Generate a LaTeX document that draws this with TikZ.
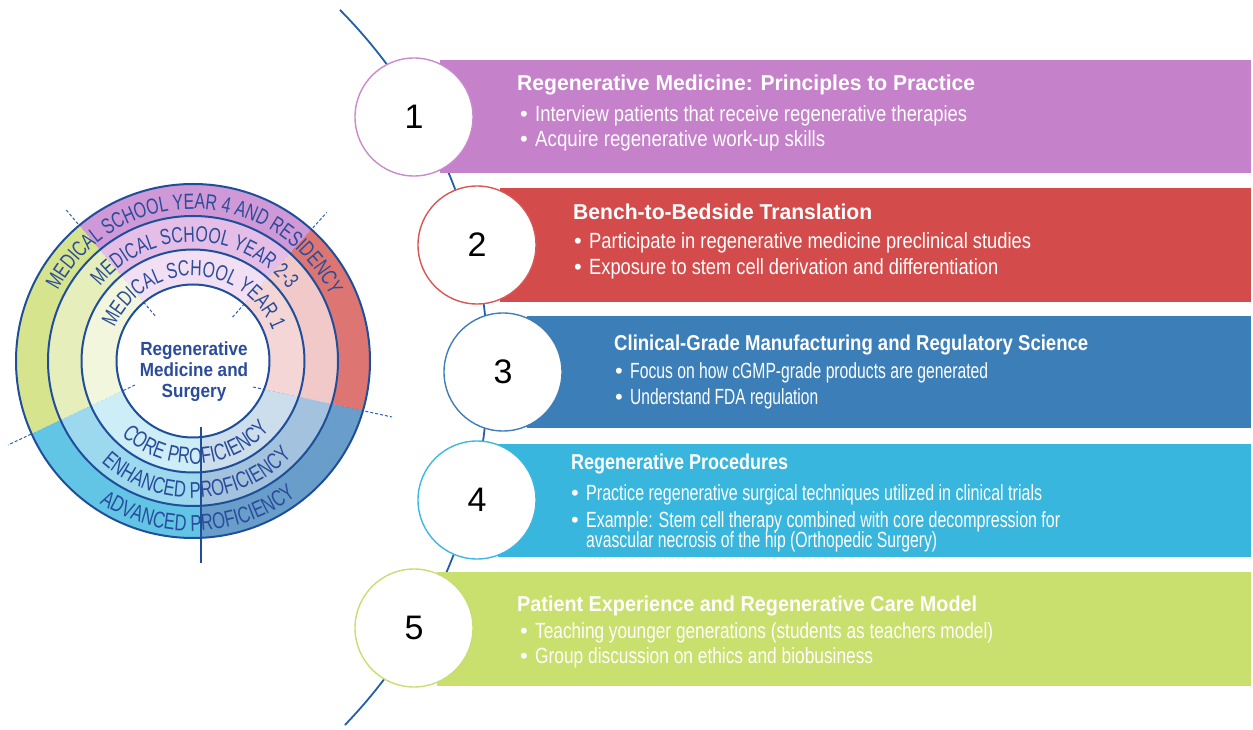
\documentclass[tikz,border=0pt]{standalone}
\usepackage{fontspec}
\usepackage{graphicx}
\setmainfont{Liberation Sans}
\newfontfamily\ringfont[FakeStretch=0.72]{Liberation Sans}
\newfontfamily\ctrfont[FakeStretch=0.9]{Liberation Sans}
\usetikzlibrary{decorations.text,calc}
\newcommand\fitw[2]{\resizebox{#1}{\height}{#2}}
\definecolor{ringblue}{HTML}{1F4E9A}
\definecolor{ringtext}{HTML}{2A4C9A}
\definecolor{dashblue}{HTML}{2F5FA8}
\definecolor{arcblue}{HTML}{2160A6}
\definecolor{pA}{HTML}{CF98D6}\definecolor{pB}{HTML}{E4BEE6}\definecolor{pC}{HTML}{F2DFF3}
\definecolor{gA}{HTML}{D7E48E}\definecolor{gB}{HTML}{E6EEBC}\definecolor{gC}{HTML}{F1F6DC}
\definecolor{rA}{HTML}{DD7672}\definecolor{rB}{HTML}{F2C9C9}\definecolor{rC}{HTML}{F5D6D6}
\definecolor{cA}{HTML}{63C5E6}\definecolor{cB}{HTML}{9CD9EE}\definecolor{cC}{HTML}{CDEDF7}
\definecolor{sA}{HTML}{6A9ECA}\definecolor{sB}{HTML}{A2C2DD}\definecolor{sC}{HTML}{CCDDEB}
\definecolor{bandA}{HTML}{C581C9}
\definecolor{bandB}{HTML}{D34C4B}
\definecolor{bandC}{HTML}{3B7EB8}
\definecolor{bandD}{HTML}{39B6DD}
\definecolor{bandE}{HTML}{C9DF6E}
\definecolor{oA}{HTML}{C98BCB}
\definecolor{oB}{HTML}{D85656}
\definecolor{oC}{HTML}{3F7EB6}
\definecolor{oD}{HTML}{3DB8E0}
\definecolor{oE}{HTML}{C8DE70}
\tikzset{
  bandbox/.style={anchor=south west, inner sep=0, outer sep=0, draw=none, fill=#1},
  numcirc/.style={circle, fill=white, draw=#1, line width=1.4pt, minimum size=118pt, inner sep=0,
    font=\fontsize{34}{34}\selectfont, text=black},
  ttl/.style={anchor=base west, inner sep=0, text=white, font=\fontsize{21.5}{22}\selectfont\bfseries},
  blt/.style={anchor=base west, inner sep=0, text=white, font=\fontsize{22}{22}\selectfont},
  ringline/.style={draw=ringblue, line width=2pt},
  sectorline/.style={draw=dashblue, line width=1pt, dash pattern=on 3pt off 2pt},
  ringlabel/.style={decorate, decoration={text along path, text align=center, text color=ringtext,
    text={|\ringfont\fontsize{22}{22}\selectfont|#1}}},
  ringlabelb/.style={decorate, decoration={text along path, text align=center, text color=ringtext,
    text={|\ringfont\fontsize{23}{23}\selectfont|#1}}},
  ctrtext/.style={anchor=base, inner sep=0, text=ringtext, font=\ctrfont\fontsize{19}{21}\selectfont\bfseries}
}
\begin{document}
\begin{tikzpicture}[x=1pt,y=1pt]
\useasboundingbox (0,0) rectangle (1253,729);
% ---------- left ring diagram ----------
\coordinate (C) at (193,368);
\coordinate (d1a) at ($(C)+(130:59)$);
\coordinate (d1b) at ($(C)+(130:199)$);
\coordinate (d2a) at ($(C)+(48:59)$);
\coordinate (d2b) at ($(C)+(48:200)$);
\coordinate (d3a) at (253,342);
\coordinate (d3b) at (392,312);
\coordinate (d4a) at (135,344);
\coordinate (d4b) at (8,284);
\draw[sectorline] (d1a) -- (d1b);
\draw[sectorline] (d2a) -- (d2b);
\draw[sectorline] (d3a) -- (d3b);
\draw[sectorline] (d4a) -- (d4b);
% sectors
\begin{scope}
  \clip (193,368) -- (-64.1,674.4) -- (-64.1,800) -- (460.7,800) -- (460.7,665.3) -- cycle;
  \fill[pA, even odd rule] (C) circle[radius=177] (C) circle[radius=145];
  \fill[pB, even odd rule] (C) circle[radius=145] (C) circle[radius=111.5];
  \fill[pC, even odd rule] (C) circle[radius=111.5] (C) circle[radius=76.5];
\end{scope}
\begin{scope}
  \clip (193,368) -- (-64.1,674.4) -- (-120,674.4) -- (-120,223.6) -- (150,351.1) -- cycle;
  \fill[gA, even odd rule] (C) circle[radius=177] (C) circle[radius=145];
  \fill[gB, even odd rule] (C) circle[radius=145] (C) circle[radius=111.5];
  \fill[gC, even odd rule] (C) circle[radius=111.5] (C) circle[radius=76.5];
\end{scope}
\begin{scope}
  \clip (193,368) -- (460.7,665.3) -- (520,665.3) -- (520,284.4) -- (253,342) -- cycle;
  \fill[rA, even odd rule] (C) circle[radius=177] (C) circle[radius=145];
  \fill[rB, even odd rule] (C) circle[radius=145] (C) circle[radius=111.5];
  \fill[rC, even odd rule] (C) circle[radius=111.5] (C) circle[radius=76.5];
\end{scope}
\begin{scope}
  \clip (-120,223.6) -- (150,351.1) -- (201,351.1) -- (201,-50) -- (-120,-50) -- cycle;
  \fill[cA, even odd rule] (C) circle[radius=177] (C) circle[radius=145];
  \fill[cB, even odd rule] (C) circle[radius=145] (C) circle[radius=111.5];
  \fill[cC, even odd rule] (C) circle[radius=111.5] (C) circle[radius=76.5];
\end{scope}
\begin{scope}
  \clip (253,342) -- (520,284.4) -- (520,-50) -- (201,-50) -- (201,342) -- cycle;
  \fill[sA, even odd rule] (C) circle[radius=177] (C) circle[radius=145];
  \fill[sB, even odd rule] (C) circle[radius=145] (C) circle[radius=111.5];
  \fill[sC, even odd rule] (C) circle[radius=111.5] (C) circle[radius=76.5];
\end{scope}
\draw[ringline] (C) circle[radius=177];
\draw[ringline] (C) circle[radius=145];
\draw[ringline] (C) circle[radius=111.5];
\draw[ringline] (C) circle[radius=76.5];
\coordinate (vtop) at (201,302);
\coordinate (vbot) at (201,166);
\draw[draw=ringblue, line width=1.5pt] (vtop) -- (vbot);
% ring labels
\path[ringlabel={MEDICAL SCHOOL YEAR 4 AND RESIDENCY}] (C) ++(179:152) arc[start angle=179, end angle=-1, radius=152];
\path[ringlabel={MEDICAL SCHOOL YEAR 2-3}] (C) ++(179:119) arc[start angle=179, end angle=-1, radius=119];
\path[ringlabel={MEDICAL SCHOOL YEAR 1}] (C) ++(179:85) arc[start angle=179, end angle=-1, radius=85];
\path[ringlabelb={CORE PROFICIENCY}] (C) ++(182:103) arc[start angle=182, end angle=362, radius=103];
\path[ringlabelb={ENHANCED PROFICIENCY}] (C) ++(182:137) arc[start angle=182, end angle=362, radius=137];
\path[ringlabelb={ADVANCED PROFICIENCY}] (C) ++(182:170) arc[start angle=182, end angle=362, radius=170];
\node[ctrtext] (c1) at (194,373) {Regenerative};
\node[ctrtext] (c2) at (194,352) {Medicine and};
\node[ctrtext] (c3) at (194,331) {Surgery};
% ---------- right side ----------
\coordinate (arcC) at (-24,359);
\draw[arcblue, line width=1.8pt] (arcC) ++(44.7:512) arc[start angle=44.7, end angle=-43.9, radius=512];
\node[bandbox=bandA, minimum width=811pt, minimum height=113pt] (band1) at (440,556) {};
\node[bandbox=bandB, minimum width=751pt, minimum height=114pt] (band2) at (500,427) {};
\node[bandbox=bandC, minimum width=724pt, minimum height=112pt] (band3) at (527,301) {};
\node[bandbox=bandD, minimum width=753pt, minimum height=113pt] (band4) at (498,172) {};
\node[bandbox=bandE, minimum width=814pt, minimum height=114pt] (band5) at (437,43) {};
\node[numcirc=oA] (n1) at (414,612) {1};
\node[numcirc=oB] (n2) at (477,484) {2};
\node[numcirc=oC] (n3) at (503,357) {3};
\node[numcirc=oD] (n4) at (477,229) {4};
\node[numcirc=oE] (n5) at (414,101) {5};
% band 1
\node[ttl] (t1) at (517,638) {\fitw{458pt}{Regenerative Medicine: Principles to Practice}};
\node[blt] (b1a) at (520,607) {\makebox[15pt][l]{•}\fitw{432pt}{Interview patients that receive regenerative therapies}};
\node[blt] (b1b) at (520,582) {\makebox[15pt][l]{•}\fitw{290pt}{Acquire regenerative work-up skills}};
% band 2
\node[ttl] (t2) at (573,509) {\fitw{299pt}{Bench-to-Bedside Translation}};
\node[blt] (b2a) at (574,480) {\makebox[15pt][l]{•}\fitw{442pt}{Participate in regenerative medicine preclinical studies}};
\node[blt] (b2b) at (574,454) {\makebox[15pt][l]{•}\fitw{409pt}{Exposure to stem cell derivation and differentiation}};
% band 3
\node[ttl] (t3) at (614,378) {\fitw{474pt}{Clinical-Grade Manufacturing and Regulatory Science}};
\node[blt] (b3a) at (615,350) {\makebox[15pt][l]{•}\fitw{358pt}{Focus on how cGMP-grade products are generated}};
\node[blt] (b3b) at (615,324) {\makebox[15pt][l]{•}\fitw{188pt}{Understand FDA regulation}};
% band 4
\node[ttl] (t4) at (571,259) {\fitw{217pt}{Regenerative Procedures}};
\node[blt] (b4a) at (571,229) {\makebox[15pt][l]{•}\fitw{456pt}{Practice regenerative surgical techniques utilized in clinical trials}};
\node[blt] (b4b) at (571,202) {\makebox[15pt][l]{•}\fitw{474pt}{Example: Stem cell therapy combined with core decompression for}};
\node[blt] (b4c) at (586,182) {\fitw{351pt}{avascular necrosis of the hip (Orthopedic Surgery)}};
% band 5
\node[ttl] (t5) at (517,118) {\fitw{460pt}{Patient Experience and Regenerative Care Model}};
\node[blt] (b5a) at (520,91) {\makebox[15pt][l]{•}\fitw{458pt}{Teaching younger generations (students as teachers model)}};
\node[blt] (b5b) at (520,66) {\makebox[15pt][l]{•}\fitw{338pt}{Group discussion on ethics and biobusiness}};
\end{tikzpicture}
\end{document}
